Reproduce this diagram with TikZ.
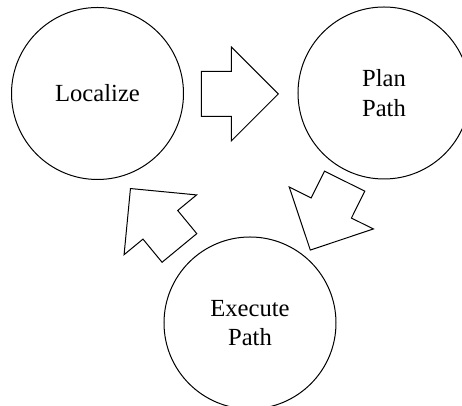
\documentclass[tikz,border=0pt]{standalone}
\usepackage{fontspec}
\setmainfont{Liberation Serif}
\usetikzlibrary{shapes.arrows}
\begin{document}
\begin{tikzpicture}[x=1pt, y=1pt, line width=0.5pt,
	font=\fontsize{12.3}{14.8}\selectfont,
	stage/.style={draw, circle, minimum size=86pt, inner sep=0pt, align=center},
	blockarrow/.style={draw, single arrow, minimum height=38.5pt, minimum width=46.5pt,
		single arrow head extend=12.25pt, inner xsep=0pt, inner ysep=11pt, anchor=tip}]
	\useasboundingbox (0,0) rectangle (231,203);
	\node[stage] (loc) at (48.75,156.25) {Localize};
	\node[stage] (plan) at (192,156.5) {Plan\\Path};
	\node[stage] (exec) at (125,41.5) {Execute\\Path};
	\node[blockarrow, rotate=0] (a1) at (139.5,156) {};
	\node[blockarrow, rotate=243.5] (a2) at (155,77.65) {};
	\node[blockarrow, rotate=129.5] (a3) at (65,109) {};
\end{tikzpicture}
\end{document}
